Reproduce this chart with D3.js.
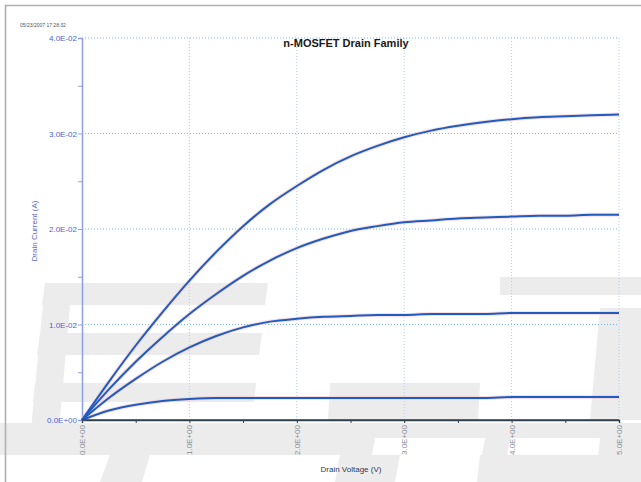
<!DOCTYPE html>
<html><head><meta charset="utf-8">
<script src="https://cdn.jsdelivr.net/npm/d3@7"></script>
<style>
html,body{margin:0;padding:0;background:#fff;}
svg{display:block;font-family:"Liberation Sans",Arial,sans-serif;}
</style></head>
<body><svg id="c" width="641" height="482"></svg>
<script>
// ---- data ----
const voltages = [0,0.25,0.5,0.75,1,1.25,1.5,1.75,2,2.25,2.5,2.75,3,3.25,3.5,3.75,4,4.25,4.5,4.75,5];
const currentVgs4 = [0,0.0040,0.0078,0.0113,0.0146,0.0176,0.0203,0.0226,0.0245,0.0262,0.0276,0.0287,0.0296,0.0303,0.0308,0.0312,0.0315,0.0317,0.0318,0.0319,0.0320];
const currentVgs3 = [0,0.0032,0.0061,0.0087,0.0111,0.0132,0.0151,0.0167,0.0180,0.0190,0.0198,0.0203,0.0207,0.0209,0.0211,0.0212,0.0213,0.0214,0.0214,0.0215,0.0215];
const currentVgs2 = [0,0.0023,0.0043,0.0061,0.0076,0.0088,0.0097,0.0103,0.0106,0.0108,0.0109,0.0110,0.0110,0.0111,0.0111,0.0111,0.0112,0.0112,0.0112,0.0112,0.0112];
const currentVgs1 = [0,0.0010,0.0016,0.0020,0.0022,0.0023,0.0023,0.0023,0.0023,0.0023,0.0023,0.0023,0.0023,0.0023,0.0023,0.0023,0.0024,0.0024,0.0024,0.0024,0.0024];
const currentVgs0 = [0,0,0,0,0,0,0,0,0,0,0,0,0,0,0,0,0,0,0,0,0];
const xTicks = [0,1,2,3,4,5];
const xTickLabels = ["0.0E+00","1.0E+00","2.0E+00","3.0E+00","4.0E+00","5.0E+00"];
const yTicks = [0,0.01,0.02,0.03,0.04];
const yTickLabels = ["0.0E+00","1.0E-02","2.0E-02","3.0E-02","4.0E-02"];
const titleText = "n-MOSFET Drain Family";
const xLabel = "Drain Voltage (V)";
const yLabel = "Drain Current (A)";
const stamp = "05/23/2007 17:28:32";

const svg = d3.select("#c");
const L = 82, R = 619, T = 38, B = 420;
const x = d3.scaleLinear().domain([0,5]).range([L,R]);
const y = d3.scaleLinear().domain([0,0.04]).range([B,T]);

// ---- background watermark (decorative) ----
const wm = svg.append("g").attr("fill","#ececec");
const polys = [
  [[45,283],[268,283],[265,305],[42,305]],
  [[40,333],[262,333],[259,355],[37,355]],
  [[35,383],[256,383],[254,402],[33,402]],
  [[45,283],[72,283],[58,440],[30,440]],
  [[500,277],[641,277],[641,295],[500,295]],
  [[600,308],[641,308],[641,420],[590,420]],
  [[330,383],[480,383],[478,420],[328,420]],
  [[0,423],[641,423],[641,438],[0,438]],
  [[0,438],[375,438],[372,455],[0,455]],
  [[485,438],[510,438],[507,455],[482,455]],
  [[600,438],[641,438],[641,482],[596,482]],
  [[110,455],[150,455],[142,482],[100,482]],
  [[340,455],[400,455],[395,482],[335,482]],
  [[480,455],[600,455],[597,482],[477,482]]
];
polys.forEach(p => wm.append("polygon").attr("points", p.map(d=>d.join(",")).join(" ")));

// frame
svg.append("path").attr("d","M5.5,482 V5.5 H641").attr("fill","none").attr("stroke","#b0b0b0").attr("stroke-width",1.6);

// ---- grid ----
const grid = svg.append("g");
grid.selectAll("line.h").data(yTicks.filter(d=>d>0)).join("line")
  .attr("x1",L).attr("x2",R).attr("y1",d=>y(d)).attr("y2",d=>y(d))
  .attr("stroke","#7fb6e0").attr("stroke-width",1).attr("stroke-dasharray","1,2");
grid.selectAll("line.v").data(xTicks.filter(d=>d>0)).join("line")
  .attr("y1",T).attr("y2",B).attr("x1",d=>x(d)).attr("x2",d=>x(d))
  .attr("stroke","#a9d0ec").attr("stroke-width",1).attr("stroke-dasharray","1,2");

// ---- y axis ----
const yAxis = d3.axisLeft(y).tickValues(d3.range(0,0.0401,0.005)).tickSize(4)
  .tickFormat(d => { const i = yTicks.findIndex(t=>Math.abs(t-d)<1e-9); return i>=0 ? yTickLabels[i] : ""; });
const gy = svg.append("g").attr("transform",`translate(${L},0)`).call(yAxis);
gy.select(".domain").attr("stroke","#8f9fe6").attr("stroke-width",1.5);
gy.selectAll(".tick line").attr("stroke","#8f9fe6");
gy.selectAll(".tick text").attr("fill","#4a63d8").attr("font-size",8).attr("x",-5);

// ---- x axis ----
const xAxis = d3.axisBottom(x).tickValues(d3.range(0,5.01,0.5)).tickSize(3)
  .tickFormat(d => { const i = xTicks.findIndex(t=>Math.abs(t-d)<1e-9); return i>=0 ? xTickLabels[i] : ""; });
const gx = svg.append("g").attr("transform",`translate(0,${B})`).call(xAxis);
gx.select(".domain").attr("stroke","#2d3e4e").attr("stroke-width",1.5);
gx.selectAll(".tick line").attr("stroke","#2d3e4e");
gx.selectAll(".tick text").attr("fill","#8a8f9a").attr("font-size",8)
  .attr("transform","rotate(-90)").attr("text-anchor","end").attr("dy","0.32em").attr("x",-5).attr("y",0);

// ---- curves ----
const line = d3.line().x((d,i)=>x(voltages[i])).y(d=>y(d)).curve(d3.curveMonotoneX);
const series = [currentVgs1,currentVgs2,currentVgs3,currentVgs4];
svg.append("g").selectAll("path").data(series).join("path")
  .attr("d",line).attr("fill","none").attr("stroke","#f3c6d6").attr("stroke-width",4).attr("opacity",0.6);
svg.append("g").selectAll("path").data(series).join("path")
  .attr("d",line).attr("fill","none").attr("stroke","#1f5cbc").attr("stroke-width",2);
svg.append("path").datum(currentVgs0).attr("d",line).attr("fill","none").attr("stroke","#33434f").attr("stroke-width",1.5);

// ---- texts ----
svg.append("text").attr("x",346).attr("y",47).attr("text-anchor","middle")
  .attr("font-size",11).attr("font-weight","bold").attr("fill","#1a1a1a").text(titleText);
svg.append("text").attr("x",20).attr("y",27).attr("font-size",5).attr("fill","#555").text(stamp);
svg.append("text").attr("transform","translate(37,231) rotate(-90)").attr("text-anchor","middle")
  .attr("font-size",8).attr("fill","#5a6bd0").text(yLabel);
svg.append("text").attr("x",351).attr("y",472).attr("text-anchor","middle")
  .attr("font-size",8).attr("fill","#333a55").text(xLabel);
</script></body></html>
